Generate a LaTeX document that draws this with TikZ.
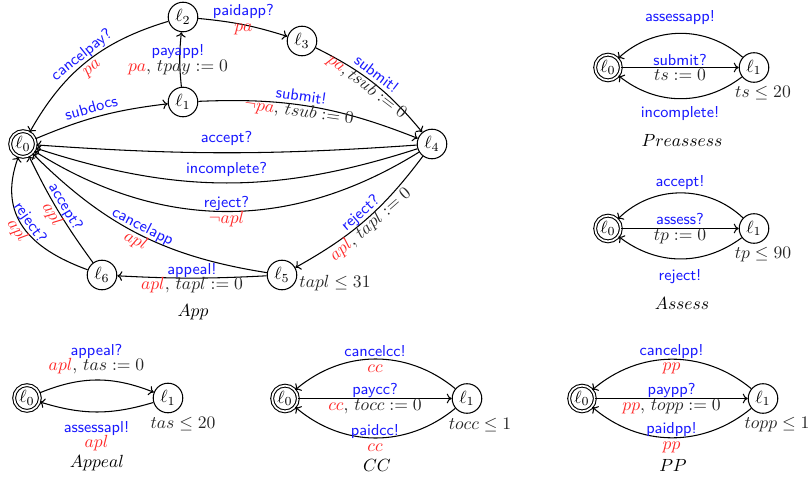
\documentclass[tikz,border=0pt]{standalone}
\usetikzlibrary{arrows.meta}
\definecolor{syncol}{RGB}{25,25,255}
\definecolor{grdcol}{RGB}{255,40,40}
\newcommand{\rv}[1]{{\color{grdcol}#1}}
\newcommand{\sy}[1]{{\color{syncol}\sffamily\fontsize{9}{8}\selectfont #1}}
\begin{document}
\begin{tikzpicture}[x=0.568pt,y=-0.568pt,
  loc/.style={circle,draw,line width=0.6pt,minimum size=16.8pt,inner sep=0pt,font=\fontsize{10}{12}\selectfont},
  ini/.style={loc,double,double distance=1pt,minimum size=14.6pt},
  tr/.style={-{To[length=2.8pt,width=5.5pt]},line width=0.6pt},
  lab/.style={align=center,inner sep=1pt,text=black!85,font={\fontsize{10}{8.8}\selectfont\lineskiplimit=-20pt}},
  one/.style={inner sep=1.5pt,text=syncol,font=\sffamily\fontsize{9}{10}\selectfont},
  inv/.style={inner sep=0pt,text=black!85,font=\fontsize{10}{12}\selectfont},
  ttl/.style={inner sep=0pt,font=\fontsize{10}{12}\selectfont}
]
\useasboundingbox (0,0) rectangle (809,477);

% ---------------- App ----------------
\node[ini] (a0) at (23,144) {$\ell_0$};
\node[loc] (a1) at (183,102) {$\ell_1$};
\node[loc] (a2) at (183,17) {$\ell_2$};
\node[loc] (a3) at (302,41) {$\ell_3$};
\node[loc] (a4) at (432,144) {$\ell_4$};
\node[loc] (a5) at (282,275) {$\ell_5$};
\node[loc] (a6) at (102,275) {$\ell_6$};
\node[inv] (a5i) at (335,283) {$tapl \le 31$};
\node[ttl] (at) at (193,312) {$App$};

\draw[tr] (a0) to[bend left=8] node[one,sloped,above=1pt,pos=0.45]{subdocs} (a1);
\draw[tr] (a1) to[bend left=6] node[lab,xshift=-1pt]{\sy{payapp!}\\$\rv{pa}$, $tpay := 0$} (a2);
\draw[tr] (a2) to[bend right=22] node[lab,sloped]{\sy{cancelpay?}\\$\rv{pa}$} (a0);
\draw[tr] (a2) to[bend left=6] node[lab,yshift=3pt]{\sy{paidapp?}\\$\rv{pa}$} (a3);
\draw[tr] (a3) to[bend left=12] node[lab,sloped,pos=0.47]{\sy{submit!}\\$\rv{pa},tsub := 0$} (a4);
\draw[tr] (a1) to[bend left=12] node[lab,sloped,pos=0.45]{\sy{submit!}\\$\rv{\neg pa}$, $tsub := 0$} (a4);
\draw[tr] (a4) to[bend left=4] node[one,above=2pt]{accept?} (a0);
\draw[tr] (a4) to[bend left=18] node[one,above=2pt]{incomplete?} (a0);
\draw[tr] (a4) to[bend left=32] node[lab]{\sy{reject?}\\$\rv{\neg apl}$} (a0);
\draw[tr] (a4) to[bend left=12] node[lab,sloped]{\sy{reject?}\\$\rv{apl}$, $tapl := 0$} (a5);
\draw[tr] (a5) to[bend left=3] node[lab]{\sy{appeal!}\\$\rv{apl}$, $tapl := 0$} (a6);
\draw[tr] (a5) to[bend left=18] node[lab,sloped]{\sy{cancelapp}\\$\rv{apl}$} (a0);
\draw[tr] (a6) to[bend left=5] node[lab,sloped]{\sy{accept?}\\$\rv{apl}$} (a0);
\draw[tr] (a6) to[out=160,in=-110,looseness=1.2] node[lab,sloped]{\sy{reject?}\\$\rv{apl}$} (a0);

% ---------------- Preassess ----------------
\node[ini] (p0) at (608,67.5) {$\ell_0$};
\node[loc] (p1) at (754,67.5) {$\ell_1$};
\node[inv] (p1i) at (763,93) {$ts \le 20$};
\node[ttl] (pt) at (682,140) {$Preassess$};
\draw[tr] (p1) to[bend right=42] node[one,above=3pt]{assessapp!} (p0);
\draw[tr] (p0) -- node[lab]{\sy{submit?}\\$ts := 0$} (p1);
\draw[tr] (p1) to[bend left=38] node[one,below=2.5pt]{incomplete!} (p0);

% ---------------- Assess ----------------
\node[ini] (s0) at (608,228.5) {$\ell_0$};
\node[loc] (s1) at (754,228.5) {$\ell_1$};
\node[inv] (s1i) at (763,255) {$tp \le 90$};
\node[ttl] (st) at (682,303) {$Assess$};
\draw[tr] (s1) to[bend right=44] node[one,above=0pt]{accept!} (s0);
\draw[tr] (s0) -- node[lab]{\sy{assess?}\\$tp := 0$} (s1);
\draw[tr] (s1) to[bend left=37] node[one,below=4.5pt]{reject!} (s0);

% ---------------- Appeal ----------------
\node[ini] (q0) at (27,398) {$\ell_0$};
\node[loc] (q1) at (168,398) {$\ell_1$};
\node[inv] (q1i) at (183,424) {$tas \le 20$};
\node[ttl] (qt) at (97,463) {$Appeal$};
\draw[tr] (q0) to[bend left=22] node[lab,above=2pt]{\sy{appeal?}\\$\rv{apl}$, $tas := 0$} (q1);
\draw[tr] (q1) to[bend left=17] node[lab,below=4pt]{\sy{assessapl!}\\$\rv{apl}$} (q0);

% ---------------- CC ----------------
\node[ini] (c0) at (285,398.5) {$\ell_0$};
\node[loc] (c1) at (467,398.5) {$\ell_1$};
\node[inv] (c1i) at (480,425) {$tocc \le 1$};
\node[ttl] (ct) at (377,465) {$CC$};
\draw[tr] (c1) to[bend right=40] node[lab]{\sy{cancelcc!}\\$\rv{cc}$} (c0);
\draw[tr] (c0) -- node[lab]{\sy{paycc?}\\$\rv{cc}$, $tocc := 0$} (c1);
\draw[tr] (c1) to[bend left=40] node[lab]{\sy{paidcc!}\\$\rv{cc}$} (c0);

% ---------------- PP ----------------
\node[ini] (d0) at (582,398.5) {$\ell_0$};
\node[loc] (d1) at (763,398.5) {$\ell_1$};
\node[inv] (d1i) at (777,425) {$topp \le 1$};
\node[ttl] (dt) at (673,465) {$PP$};
\draw[tr] (d1) to[bend right=40] node[lab]{\sy{cancelpp!}\\$\rv{pp}$} (d0);
\draw[tr] (d0) -- node[lab]{\sy{paypp?}\\$\rv{pp}$, $topp := 0$} (d1);
\draw[tr] (d1) to[bend left=40] node[lab]{\sy{paidpp!}\\$\rv{pp}$} (d0);
\end{tikzpicture}
\end{document}
